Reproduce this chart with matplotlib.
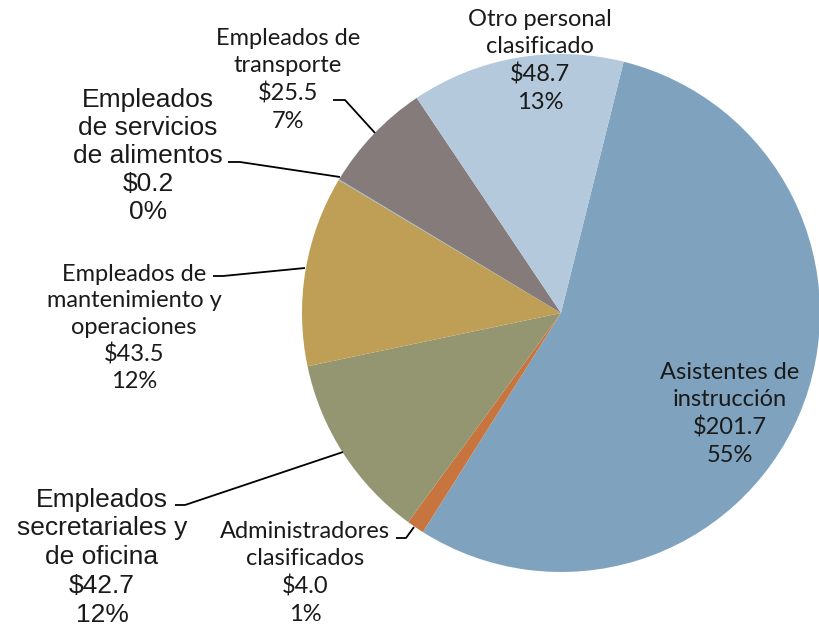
import matplotlib
matplotlib.use("Agg")
import matplotlib.pyplot as plt

categories = ["Asistentes de\ninstrucción", "Administradores\nclasificados",
              "Empleados\nsecretariales y\nde oficina", "Empleados de\nmantenimiento y\noperaciones",
              "Empleados\nde servicios\nde alimentos", "Empleados de\ntransporte",
              "Otro personal\nclasificado"]
values = [201.7, 4.0, 42.7, 43.5, 0.2, 25.5, 48.7]
pct_labels = ["55%", "1%", "12%", "12%", "0%", "7%", "13%"]
colors = ["#7FA3BE", "#C8743F", "#949672", "#BF9E55", "#8FB0CC", "#857B7A", "#B4C9DC"]

W, H = 819, 629
fig = plt.figure(figsize=(W / 100, H / 100), dpi=100)
ax = fig.add_axes([0, 0, 1, 1])

cx, cy, r = 561, 313, 259
ax.pie(values, colors=colors, startangle=76, counterclock=False,
       center=(cx, H - cy), radius=r, frame=True,
       wedgeprops=dict(linewidth=0))
ax.set_xlim(0, W)
ax.set_ylim(0, H)
ax.set_axis_off()

gothic = ["Lato", "DejaVu Sans"]
arial = ["Liberation Sans", "DejaVu Sans"]

# (index, x, y, font, size, linespacing)
label_pos = [
    (0, 730, 414, gothic, 17, 1.38),
    (1, 305, 573, gothic, 17, 1.38),
    (2, 102, 557, arial, 19, 1.25),
    (3, 134, 328, gothic, 17, 1.33),
    (4, 148, 156, arial, 19, 1.22),
    (5, 288, 80, gothic, 17, 1.38),
    (6, 540, 61, gothic, 17, 1.38),
]
for i, x, y, fam, fs, ls in label_pos:
    txt = f"{categories[i]}\n${values[i]:.1f}\n{pct_labels[i]}"
    ax.text(x, H - y, txt, ha="center", va="center", family=fam,
            fontsize=fs, linespacing=ls, color="#1a1a1a")

leaders = [
    [(333, 100), (345, 100), (375, 133)],
    [(228, 162), (240, 162), (340, 177)],
    [(213, 276), (223, 276), (305, 268)],
    [(175, 505), (185, 505), (343, 452)],
    [(396, 538), (406, 538), (414, 527)],
]
for pts in leaders:
    xs = [p[0] for p in pts]
    ys = [H - p[1] for p in pts]
    ax.plot(xs, ys, color="black", linewidth=1.3, solid_capstyle="butt")

fig.savefig("out.png", dpi=100)
